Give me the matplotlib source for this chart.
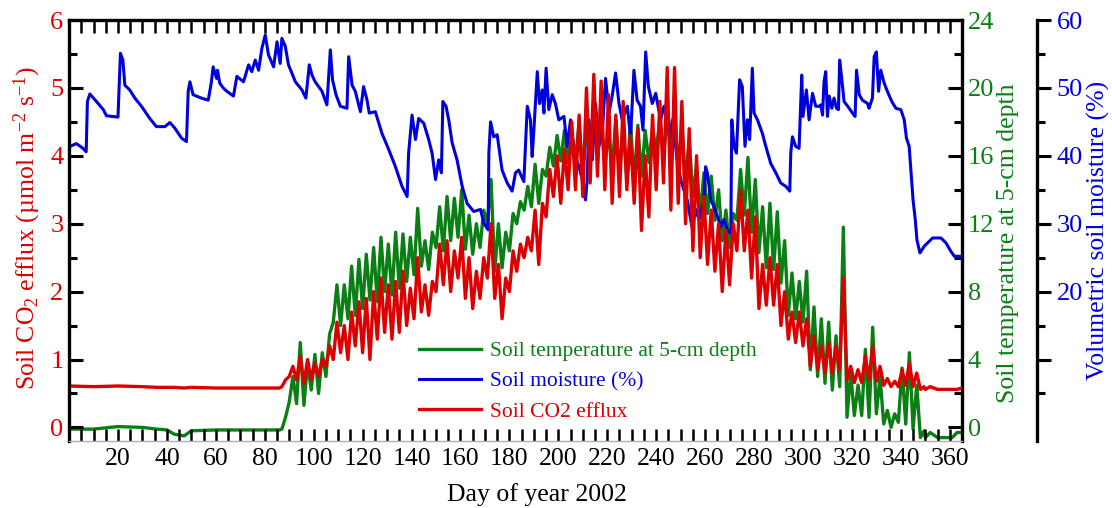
import numpy as np
import matplotlib.pyplot as plt

plt.rcParams['font.family'] = ['Liberation Serif', 'DejaVu Serif']
plt.rcParams['mathtext.default'] = 'regular'

RED = '#DD0000'
GREEN = '#0A7F14'
BLUE = '#0000DD'

# volumetric soil moisture (%)
moist_day = [0.5, 3, 5.7, 7, 7.5, 8.5, 11.2, 14, 15.3, 20, 21, 22, 22.8, 24.8, 26.9, 29.6, 33, 35.7,
             39.2, 41.2, 43.2, 46, 48, 48.7, 49.4, 50.7, 54.1, 56.9, 58.2, 58.9, 60.3, 60.7, 61.6, 63,
             64.5, 67.2, 68.6, 71.3, 73.4, 74.7, 76.1, 77.5, 78.8, 80.2, 81.5, 83.6, 85, 86.3, 87, 88.4,
             89.7, 92.5, 95.2, 96.8, 98.2, 99.3, 100.6, 103.4, 105.4, 106.8, 107.7, 109.1, 110.9, 113.6,
             114.3, 115.7, 117, 119.1, 120.4, 121.8, 122.7, 125.2, 127.9, 130.7, 133.4, 136.1, 138.2,
             138.8, 140.2, 141.6, 142.9, 145, 147, 148.4, 149.8, 151.1, 152.2, 152.8, 154.1, 155.2,
             156.6, 158.6, 160.7, 162.7, 165.4, 168.2, 169.5, 171.3, 171.6, 172.3, 173.6, 175, 177,
             179.1, 181.1, 182.5, 183.8, 185.9, 187.3, 188.6, 189.3, 190, 191.4, 192.3, 193.4, 194.1,
             195, 196.1, 197.5, 198.8, 200.2, 202.3, 203.6, 205, 206.4, 208.4, 209.8, 211.1, 211.8,
             212.5, 213.9, 215.2, 216.6, 218.2, 219.3, 220.7, 222, 223.4, 224.8, 226.1, 228.2, 229.5,
             230.9, 232.2, 233.6, 234.6, 235.7, 236.8, 238.4, 239.8, 241.8, 243.2, 244.6, 245.5, 246.6,
             248.6, 250, 251.3, 252.7, 254.1, 254.7, 256.1, 257.5, 258.8, 259.5, 260.2, 260.9, 262.3,
             263.6, 265, 266.4, 267.7, 269.1, 270.5, 270.9, 271.8, 272.8, 274.1, 275.2, 276.3, 277.3,
             278.2, 279.3, 280, 281.4, 283.4, 284.8, 286.8, 288.9, 290.9, 293, 294.6, 295, 295.7, 297,
             298.4, 299.5, 300, 301.4, 302.5, 303.9, 305.2, 306.9, 307.3, 308, 308.6, 309.3, 310, 310.7,
             311.8, 312.7, 313.7, 314.5, 315, 315.9, 316.8, 318.9, 320.2, 321.3, 321.9, 323, 324.3,
             326.4, 327, 328.4, 329.1, 330, 330.9, 331.8, 333.2, 334.5, 336.3, 338, 340, 341.4, 342.3,
             343.4, 344.1, 345, 345.9, 346.6, 347.8, 349.6, 351.6, 353, 356.4, 358.4, 360.5, 361.9, 365]
moist_val = [41.4, 41.8, 41.1, 40.6, 48, 49.1, 48, 46.8, 45.9, 45.7, 55.1, 54.1, 50.4, 49.7, 48.5, 47.3,
             45.5, 44.3, 44.3, 44.9, 44.1, 42.6, 42.1, 49.5, 50.9, 49, 48.5, 48.2, 50.9, 53.1, 51.4, 52.6,
             50.7, 50, 49.5, 48.8, 51.7, 50.9, 53.4, 52.4, 54.1, 52.6, 55.8, 57.8, 54.9, 53.1, 56.8, 53.6,
             57.3, 56.1, 53.4, 50.9, 49.7, 48.5, 53.4, 51.9, 50.9, 49.5, 47.5, 55.6, 51.2, 49, 47.3, 47,
             54.6, 50.4, 49.5, 46.5, 50.2, 48.2, 46.3, 46.5, 43.3, 40.9, 38.4, 35.5, 34, 40.4, 46, 42.4,
             45.5, 44.8, 42.4, 40.4, 36.5, 39.4, 37.5, 48, 47.3, 45.3, 41.9, 39.4, 35.5, 33, 31.8, 32.1,
             30.1, 29.1, 40.4, 45, 42.8, 43.1, 37.9, 36, 34.8, 37.5, 37.9, 36.2, 47.3, 45.3, 39.9, 43.8,
             52.4, 47.7, 49.7, 46.3, 52.9, 46.8, 49, 47.7, 45.3, 45.8, 41.4, 45.3, 40.4, 38.4, 36.5, 33.5,
             36.5, 45.3, 39.4, 47.7, 41.4, 44.8, 51.4, 46.3, 48.8, 52.2, 47.7, 45.3, 47.3, 42.8, 52.6,
             48.2, 47.3, 43.8, 55.3, 50.2, 47.7, 49.2, 45.3, 47.3, 45.3, 42.8, 45.3, 39.4, 36.5, 35, 33.5,
             30.6, 29.4, 32.1, 30.6, 32.5, 33.5, 38.4, 37.5, 33.5, 32.5, 31.1, 29.6, 30.6, 29.1, 28.6,
             45.3, 41.4, 40.4, 51.2, 50.2, 41.4, 45.3, 42.4, 52.9, 46.3, 45.3, 43.3, 41.4, 38.9, 37.5, 36,
             35.5, 34.8, 40.4, 42.8, 41.4, 41.1, 51.9, 45.8, 49.7, 45.3, 49.2, 47.3, 47.3, 47.5, 46, 50.9,
             52.4, 45.8, 48.8, 47, 48.5, 47, 46.8, 54.1, 51.2, 48, 47, 46.3, 45.8, 52.6, 49, 48.2, 47.7,
             47, 48.5, 54.6, 55.3, 49.5, 52.6, 50.7, 49.5, 48, 47, 46.8, 45.3, 42.6, 41.4, 37.9, 33.5,
             30.6, 27.6, 25.7, 26.7, 27.4, 27.9, 27.9, 27.2, 25.9, 25.2, 25.2]

# frozen period before the thaw (day 0-86)
pre_day = [0, 10, 20, 30, 36, 40, 43, 47, 50, 60, 70, 80, 86]
pre_temp = [-0.1, -0.1, 0.05, 0.0, -0.1, -0.15, -0.4, -0.5, -0.2, -0.15, -0.15, -0.15, -0.15]
pre_flux = [0.61, 0.6, 0.61, 0.6, 0.59, 0.59, 0.59, 0.58, 0.59, 0.58, 0.58, 0.58, 0.58]

# growing season: daily low / high every 3 days (day 87-348)
env_day = np.arange(87, 349, 3)
temp_lo = [-0.1, 1.5, 1.4, 1.3, 2.2, 2.0, 3.0, 6.2, 6.0, 6.4,
           6.6, 7.0, 7.5, 7.4, 8.0, 7.8, 8.2, 8.6, 9.0, 9.5,
           9.3, 10.6, 10.4, 11.0, 11.2, 10.5, 10.2, 10.6, 12.0, 9.2,
           9.4, 10.4, 12.0, 12.8, 13.0, 13.2, 14.8, 15.4, 15.7, 15.6,
           15.8, 15.2, 15.8, 16.2, 15.6, 15.2, 15.0, 14.6, 14.4, 14.8,
           15.6, 16.2, 16.0, 16.5, 15.2, 14.4, 13.6, 12.4, 12.6, 12.2,
           11.0, 10.6, 12.2, 12.5, 11.5, 10.3, 9.4, 9.3, 8.5, 6.6,
           6.4, 6.2, 3.4, 3.0, 2.6, 2.2, 2.4, 0.6, 0.7, 0.7,
           0.6, 0.8, 0.2, 0.0, 0.3, 0.2, -0.1, -0.6]
temp_hi = [0.6, 3.0, 5.0, 3.8, 4.3, 4.4, 5.5, 8.4, 8.4, 9.5,
           9.9, 10.2, 10.6, 11.2, 10.8, 11.5, 11.4, 11.2, 12.9, 11.0,
           11.5, 13.0, 13.6, 13.5, 14.0, 12.5, 12.0, 12.8, 14.6, 12.0,
           11.5, 12.6, 13.3, 14.2, 15.5, 15.2, 16.5, 17.2, 17.5, 17.4,
           17.9, 17.6, 18.0, 17.8, 17.3, 18.1, 17.6, 18.0, 17.8, 17.5,
           17.6, 18.2, 18.3, 18.4, 17.7, 17.0, 15.4, 15.0, 14.8, 14.0,
           12.8, 12.6, 15.2, 15.9, 14.6, 13.0, 13.2, 12.7, 11.0, 9.1,
           8.6, 9.2, 7.1, 6.4, 6.2, 5.4, 11.8, 3.2, 2.5, 4.6,
           5.9, 3.0, 1.0, 0.8, 3.5, 4.4, 2.5, -0.2]
flux_lo = [0.6, 0.75, 0.7, 0.65, 0.7, 0.75, 0.9, 1.0, 1.1, 1.0,
           1.2, 1.1, 1.0, 1.3, 1.4, 1.3, 1.4, 1.5, 1.6, 1.7,
           1.65, 2.0, 2.1, 2.0, 2.2, 1.9, 1.75, 1.9, 2.2, 1.9,
           1.6, 2.0, 2.3, 2.5, 2.6, 2.4, 3.1, 3.4, 3.3, 3.5,
           3.5, 3.4, 3.6, 3.7, 3.5, 3.3, 3.4, 3.5, 3.3, 2.9,
           3.1, 3.5, 3.6, 3.2, 3.3, 3.0, 2.6, 2.5, 2.4, 2.3,
           2.0, 2.1, 2.6, 2.6, 2.2, 1.75, 1.8, 1.8, 1.5, 1.3,
           1.25, 1.2, 0.9, 0.85, 0.8, 0.8, 0.85, 0.7, 0.66, 0.66,
           0.7, 0.68, 0.62, 0.6, 0.6, 0.62, 0.6, 0.56]
flux_hi = [0.7, 0.9, 1.05, 1.0, 0.95, 1.0, 1.2, 1.55, 1.5, 1.7,
           1.85, 1.9, 2.0, 2.2, 2.1, 2.15, 2.3, 2.05, 2.5, 2.1,
           2.15, 2.7, 2.75, 2.6, 2.8, 2.5, 2.3, 2.5, 3.0, 2.4,
           2.2, 2.6, 2.7, 2.8, 3.2, 3.3, 3.8, 4.0, 4.1, 4.5,
           4.6, 5.0, 5.2, 5.1, 4.9, 4.6, 4.8, 4.3, 4.4, 4.0,
           4.6, 4.8, 5.3, 5.3, 4.8, 4.4, 4.0, 3.4, 3.2, 3.0,
           2.9, 3.0, 3.5, 3.2, 3.1, 2.4, 2.5, 2.4, 2.0, 1.7,
           1.7, 1.6, 1.35, 1.2, 1.25, 1.2, 2.2, 0.9, 0.85, 1.05,
           1.2, 0.9, 0.72, 0.68, 0.85, 0.95, 0.8, 0.6]

# after the freeze (day 350-365)
post_day = [350, 352, 355, 358, 361, 363, 365]
post_temp = [-0.6, -0.3, -0.6, -0.6, -0.6, -0.3, -0.3]
post_flux = [0.56, 0.6, 0.56, 0.56, 0.56, 0.56, 0.58]

xticks = list(range(20, 361, 20))

#%%
# lows at the day, highs half way to the next sample
zz_day = np.column_stack([env_day, env_day + 1.5]).ravel()
day = np.concatenate([pre_day, zz_day, post_day])
temp = np.concatenate([pre_temp, np.column_stack([temp_lo, temp_hi]).ravel(), post_temp])
flux = np.concatenate([pre_flux, np.column_stack([flux_lo, flux_hi]).ravel(), post_flux])

fig = plt.figure(figsize=(11.12, 5.08), dpi=100)
ax = fig.add_axes([0.0621, 0.1319, 0.803, 0.8287])
ax_g = ax.twinx()
ax_b = ax.twinx()

# red on top, then blue, green at the back
ax_g.set_zorder(1)
ax_b.set_zorder(2)
ax.set_zorder(3)
ax.patch.set_visible(False)

l_g, = ax_g.plot(day, temp, color=GREEN, lw=2.4, label='Soil temperature at 5-cm depth')
l_b, = ax_b.plot(moist_day, moist_val, color=BLUE, lw=2.2, label='Soil moisture (%)')
l_r, = ax.plot(day, flux, color=RED, lw=2.4, label='Soil CO2 efflux')

ax.set_xlim(0, 365)
ax.set_ylim(-0.2, 6)
ax_g.set_ylim(-0.8, 24)
ax_b.set_ylim(-2, 60)

# x axis
ax.set_xticks(xticks)
ax.set_xticks(np.arange(5, 365, 5), minor=True)
ax.tick_params(axis='x', which='both', direction='in', top=True, length=9, width=1.8,
               labelsize=18.5, pad=5)

# left axis (CO2 efflux)
ax.set_yticks(np.arange(0, 7, 1))
ax.set_yticks(np.arange(0.5, 6, 1), minor=True)
ax.tick_params(axis='y', which='major', direction='in', length=10, width=2.2,
               labelsize=19, labelcolor=RED, pad=4)
ax.tick_params(axis='y', which='minor', direction='in', length=6, width=2.2)

# temperature axis
ax_g.set_yticks(np.arange(0, 25, 4))
ax_g.set_yticks(np.arange(2, 24, 4), minor=True)
ax_g.tick_params(axis='y', which='major', direction='in', length=10, width=2.2,
                 labelsize=19, labelcolor=GREEN, pad=4)
ax_g.tick_params(axis='y', which='minor', direction='in', length=6, width=2.2)

# moisture axis, offset to the right
ax_b.spines['right'].set_position(('axes', 1.084))
ax_b.set_yticks(np.arange(10, 61, 10), ['', '20', '30', '40', '50', '60'])
ax_b.set_yticks(np.arange(5, 60, 10), minor=True)
ax_b.tick_params(axis='y', which='major', direction='out', length=10, width=2.2,
                 labelsize=19, labelcolor=BLUE, pad=4)
ax_b.tick_params(axis='y', which='minor', direction='out', length=6, width=2.2)

for a in (ax_g, ax_b):
    for s in ('left', 'top', 'bottom'):
        a.spines[s].set_visible(False)
ax.spines['right'].set_visible(False)
for s in ('left', 'top'):
    ax.spines[s].set_linewidth(2.4)
ax.spines['bottom'].set_linewidth(1.0)
ax.spines['bottom'].set_color('#b0b0b0')
ax_g.spines['right'].set_linewidth(2.4)
ax_b.spines['right'].set_linewidth(2.4)

# axis titles
ax.set_xlabel('Day of year 2002', fontsize=18.5)
ax.xaxis.label.set_va('center')
ax.xaxis.set_label_coords(0.524, -0.126)
ax.set_ylabel('Soil CO$_2$ efflux (µmol m$^{-2}$ s$^{-1}$)', fontsize=18.5, color=RED)
ax_g.set_ylabel('Soil temperature at 5-cm depth', fontsize=18.5, color=GREEN)
ax_b.set_ylabel('Volumetric soil moisture (%)', fontsize=18.5, color=BLUE)
for a, xy in ((ax, (-0.047, 0.506)), (ax_g, (1.0515, 0.470)), (ax_b, (1.153, 0.501))):
    lab = a.yaxis.label
    lab.set_rotation_mode('default')
    lab.set_va('center')
    lab.set_ha('center')
    a.yaxis.set_label_coords(*xy)

leg = ax.legend(handles=[l_g, l_b, l_r], loc='upper left',
                bbox_to_anchor=(419 / 1112, 1 - 341 / 508), bbox_transform=fig.transFigure,
                frameon=False, fontsize=15.5, handlelength=2.9, handletextpad=0.42,
                labelspacing=0.48, borderpad=0, borderaxespad=0)
for txt, c in zip(leg.get_texts(), (GREEN, BLUE, RED)):
    txt.set_color(c)

fig.savefig('out.png', dpi=100)
